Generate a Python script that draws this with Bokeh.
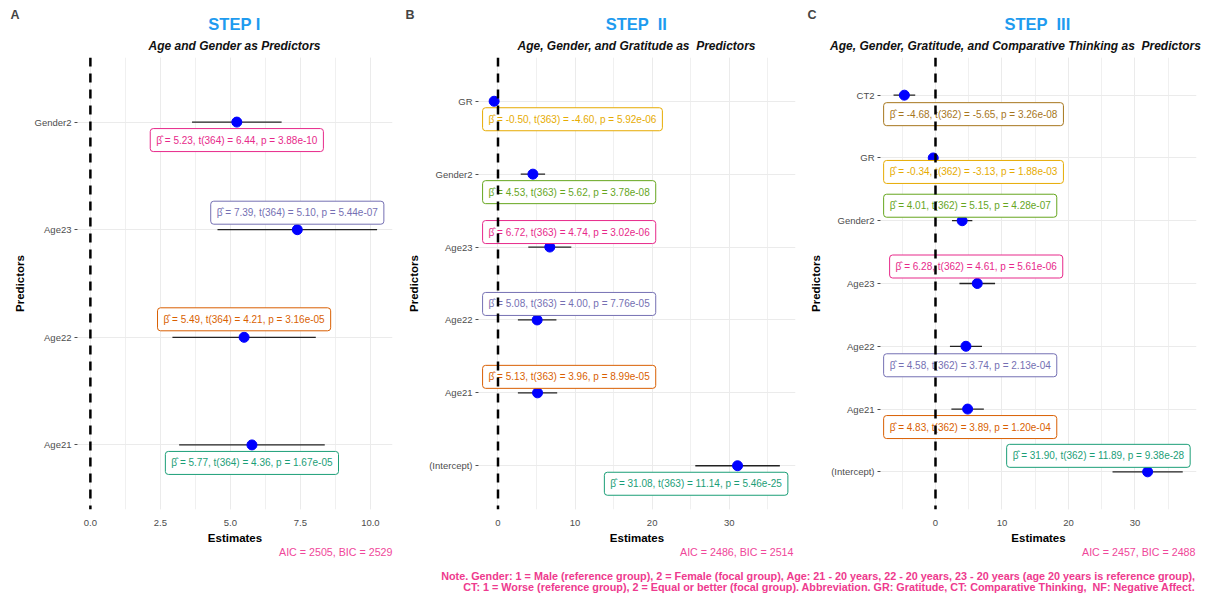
from bokeh.plotting import figure
from bokeh.models import (Range1d, FixedTicker, SingleIntervalTicker, Label,
                          ColumnDataSource, Span)
from bokeh.layouts import row, column
from bokeh.embed import file_html
from bokeh.resources import INLINE
from bokeh.core.properties import value

FONT = "Liberation Sans"

# ---------------- data ----------------
# Step I
terms_A = ["Age21", "Age22", "Age23", "Gender2"]
est_A = [5.77, 5.49, 7.39, 5.23]
lo_A = [3.17, 2.93, 4.54, 3.63]
hi_A = [8.37, 8.05, 10.24, 6.83]
t_A = [4.36, 4.21, 5.10, 6.44]
p_A = ["1.67e-05", "3.16e-05", "5.44e-07", "3.88e-10"]
df_A = 364
aic_A = "AIC = 2505, BIC = 2529"

# Step II
terms_B = ["(Intercept)", "Age21", "Age22", "Age23", "Gender2", "GR"]
est_B = [31.08, 5.13, 5.08, 6.72, 4.53, -0.50]
lo_B = [25.60, 2.58, 2.58, 3.93, 2.95, -0.71]
hi_B = [36.57, 7.68, 7.58, 9.51, 6.11, -0.29]
t_B = [11.14, 3.96, 4.00, 4.74, 5.62, -4.60]
p_B = ["5.46e-25", "8.99e-05", "7.76e-05", "3.02e-06", "3.78e-08", "5.92e-06"]
df_B = 363
aic_B = "AIC = 2486, BIC = 2514"

# Step III
terms_C = ["(Intercept)", "Age21", "Age22", "Age23", "Gender2", "GR", "CT2"]
est_C = [31.90, 4.83, 4.58, 6.28, 4.01, -0.34, -4.68]
lo_C = [26.62, 2.39, 2.17, 3.60, 2.48, -0.55, -6.31]
hi_C = [37.18, 7.27, 6.99, 8.96, 5.54, -0.13, -3.05]
t_C = [11.89, 3.89, 3.74, 4.61, 5.15, -3.13, -5.65]
p_C = ["9.38e-28", "1.20e-04", "2.13e-04", "5.61e-06", "4.28e-07", "1.88e-03", "3.26e-08"]
df_C = 362
aic_C = "AIC = 2457, BIC = 2488"

panel_letters = ["A", "B", "C"]
panel_titles = ["STEP I", "STEP \u00a0II", "STEP \u00a0III"]
panel_subtitles = ["Age and Gender as Predictors",
                   "Age, Gender, and Gratitude as \u00a0Predictors",
                   "Age, Gender, Gratitude, and Comparative Thinking as \u00a0Predictors"]

note_lines = [
    "Note. Gender: 1 = Male (reference group), 2 = Female (focal group), Age: 21 - 20 years, 22 - 20 years, 23 - 20 years (age 20 years is reference group),",
    "CT: 1 = Worse (reference group), 2 = Equal or better (focal group). Abbreviation. GR: Gratitude, CT: Comparative Thinking, \u00a0NF: Negative Affect.",
]

# ---------------- styles / layout ----------------
TEAL, ORANGE, PURPLE, PINK, GREEN, YELLOW, BROWN = (
    "#1B9E77", "#D95F02", "#7570B3", "#E7298A", "#66A61E", "#E6AB02", "#A6761D")
colors_A = [TEAL, ORANGE, PURPLE, PINK]
colors_B = [TEAL, ORANGE, PURPLE, PINK, GREEN, YELLOW]
colors_C = [TEAL, ORANGE, PURPLE, PINK, GREEN, YELLOW, BROWN]

# label placement (x anchor in data units, alignment, vertical pixel shift; + = down)
lab_x_A = est_A
lab_align_A = "center"
lab_dy_A = [18, -18, -17, 18]
lab_x_B = [13.8, -2.0, -2.0, -2.0, -2.0, -2.0]
lab_align_B = "left"
lab_dy_B = [18, -16, -16, -15, 18, 18]
lab_x_C = [10.7, -7.8, -7.8, -6.9, -7.8, -7.8, -7.8]
lab_align_C = "left"
lab_dy_C = [-16, 18, 19, -17, -15, 14, 19]

TITLE_BLUE = "#1E9BEF"
AIC_PINK = "#F0479A"
NOTE_PINK = "#EE3A8E"
GRID = "#EBEBEB"
TOP = 57          # header height (page y of panel top)
FRAME_BOTTOM = 513
PH = 489          # panel figure height
TOTAL_H = 594


def panel(terms, est, lo, hi, tv, pv, df, colors,
          lab_x, lab_align, lab_dy, xr, interval, overrides,
          width, left, right):
    n = len(terms)
    p = figure(width=width, height=PH, x_range=Range1d(*xr),
               y_range=Range1d(0.4, n + 0.6), output_backend="svg",
               toolbar_location=None, min_border_left=left,
               min_border_right=right, min_border_top=0,
               min_border_bottom=TOP + PH - FRAME_BOTTOM)
    p.outline_line_color = None
    p.background_fill_color = "white"

    xt = SingleIntervalTicker(interval=interval, num_minor_ticks=2)
    p.xaxis.ticker = xt
    p.xgrid.ticker = xt
    p.xaxis.major_label_overrides = overrides
    p.yaxis.ticker = FixedTicker(ticks=list(range(1, n + 1)))
    p.yaxis.major_label_overrides = {i + 1: t for i, t in enumerate(terms)}

    for ax in (p.xaxis, p.yaxis):
        ax.axis_line_color = None
        ax.minor_tick_line_color = None
        ax.major_label_text_font = FONT
        ax.major_label_text_font_size = "9.5px"
        ax.major_label_text_color = "#4D4D4D"
        ax.axis_label_text_font = FONT
        ax.axis_label_text_font_size = "11.5px"
        ax.axis_label_text_font_style = "bold"
        ax.axis_label_text_color = "black"
    p.xaxis.major_tick_line_color = None
    p.xaxis.major_label_standoff = 4
    p.xaxis.axis_label = "Estimates"
    p.xaxis.axis_label_standoff = 3
    p.yaxis.major_tick_line_color = "#4D4D4D"
    p.yaxis.major_tick_out = 3
    p.yaxis.major_tick_in = 0
    p.yaxis.major_label_standoff = 3
    p.yaxis.axis_label = "Predictors"
    p.yaxis.axis_label_standoff = 6

    p.xgrid.grid_line_color = GRID
    p.xgrid.minor_grid_line_color = "#F0F0F0"
    p.ygrid.grid_line_color = GRID

    ys = list(range(1, n + 1))
    src = ColumnDataSource(dict(y=ys, est=est, lo=lo, hi=hi))
    p.segment(x0="lo", x1="hi", y0="y", y1="y", source=src,
              line_color="#222222", line_width=1.3)
    p.scatter(x="est", y="y", source=src, size=10, fill_color="#0000FF",
              line_color="#0000FF")

    texts = ["\u03b2\u0302 = %.2f, t(%d) = %.2f, p = %s" % (e, df, t, pp)
             for e, t, pp in zip(est, tv, pv)]
    lsrc = ColumnDataSource(dict(x=lab_x, y=ys, text=texts, color=colors,
                                 dy=lab_dy))
    p.text(x="x", y="y", text="text", source=lsrc, text_color="color",
           text_font=value(FONT), text_font_size="10px", text_align=lab_align,
           text_baseline="middle", y_offset="dy",
           background_fill_color="white", border_line_color="color",
           border_line_width=1, padding=6, border_radius=3)

    p.add_layout(Span(location=0, dimension="height", line_color="black",
                      line_width=2.5, line_dash="9 7"))
    return p


pA = panel(terms_A, est_A, lo_A, hi_A, t_A, p_A, df_A, colors_A,
           lab_x_A, lab_align_A, lab_dy_A, (-0.46, 10.79), 2.5,
           {0: "0.0", 2.5: "2.5", 5: "5.0", 7.5: "7.5", 10: "10.0"},
           396, 77, 4)
pB = panel(terms_B, est_B, lo_B, hi_B, t_B, p_B, df_B, colors_B,
           lab_x_B, lab_align_B, lab_dy_B, (-2.53, 38.6), 10, {},
           404, 82, 5)
pC = panel(terms_C, est_C, lo_C, hi_C, t_C, p_C, df_C, colors_C,
           lab_x_C, lab_align_C, lab_dy_C, (-8.27, 39.25), 10, {},
           405, 80, 9)


def strip(height):
    f = figure(width=1205, height=height, x_range=Range1d(0, 1205),
               y_range=Range1d(height, 0), output_backend="svg",
               toolbar_location=None, min_border=0)
    f.axis.visible = False
    f.grid.visible = False
    f.outline_line_color = None
    return f


# header strip: panel letters, titles, subtitles
pH = strip(TOP)
letter_x = [10, 405, 807]
title_x = [234, 636, 1037]
sub_x = [234, 636, 1015]
for i in range(3):
    pH.add_layout(Label(x=letter_x[i], y=14, text=panel_letters[i],
                        text_font=FONT, text_font_size="12.5px",
                        text_font_style="bold", text_baseline="middle"))
    pH.add_layout(Label(x=title_x[i], y=23, text=panel_titles[i],
                        text_font=FONT, text_font_size="16.5px",
                        text_font_style="bold", text_color=TITLE_BLUE,
                        text_align="center", text_baseline="middle"))
    pH.add_layout(Label(x=sub_x[i], y=45, text=panel_subtitles[i],
                        text_font=FONT, text_font_size="12px",
                        text_font_style="bold italic", text_align="center",
                        text_baseline="middle", text_color="#111111"))

# bottom strip with fit statistics and note
base = TOP + PH
pN = strip(TOTAL_H - base)
for xr_, txt in ((392, aic_A), (793, aic_B), (1195, aic_C)):
    pN.add_layout(Label(x=xr_, y=551 - base, text=txt, text_font=FONT,
                        text_font_size="10.7px", text_color=AIC_PINK,
                        text_align="right", text_baseline="middle"))
for yy, txt in ((575, note_lines[0]), (586, note_lines[1])):
    pN.add_layout(Label(x=1195, y=yy - base, text=txt, text_font=FONT,
                        text_font_size="10.8px", text_font_style="bold",
                        text_color=NOTE_PINK, text_align="right",
                        text_baseline="middle"))

layout = column(pH, row(pA, pB, pC), pN)
open("out.html", "w").write(file_html(layout, INLINE))
